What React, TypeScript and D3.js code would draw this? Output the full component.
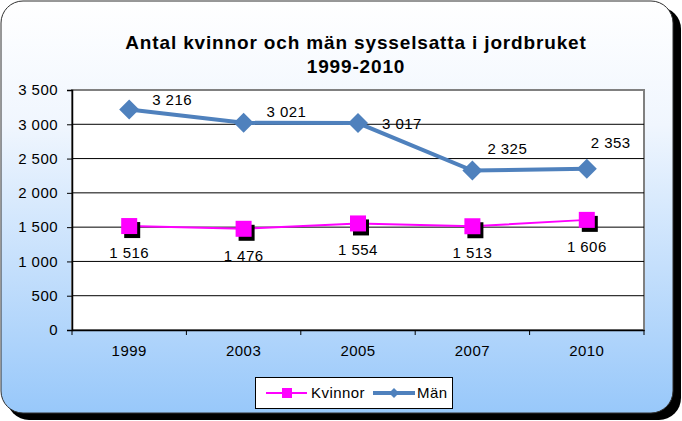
import React, { useEffect, useRef } from "react";
import * as d3 from "d3";

// data
const years = ["1999", "2003", "2005", "2007", "2010"];
const kvinnor = [1516, 1476, 1554, 1513, 1606];
const man = [3216, 3021, 3017, 2325, 2353];
const yTicks = [0, 500, 1000, 1500, 2000, 2500, 3000, 3500];
// label nudges for the Män series (hand placed in the original)
const manLabelDx = [23, 23, 24, 15, 4];
const manLabelDy = [-4, -6, 6, -17, -21];

const W = 682;
const H = 421;
const margin = { left: 72, right: 38, top: 90, bottom: 91 };
const FONT = "Liberation Sans, Arial, sans-serif";
const FS = 15;
const LS = 0.45;

const sv = d3.formatLocale({
  decimal: ",",
  thousands: "\u00a0",
  grouping: [3],
  currency: ["", " kr"],
});
const fmt = sv.format(",d");

const txt = (sel) =>
  sel
    .attr("font-family", FONT)
    .attr("font-size", FS)
    .attr("letter-spacing", LS)
    .attr("fill", "#000");

const App = () => {
  const ref = useRef(null);

  useEffect(() => {
    const svg = d3.select(ref.current);
    svg.selectAll("*").remove();

    const defs = svg.append("defs");
    const grad = defs
      .append("linearGradient")
      .attr("id", "bg")
      .attr("x1", 0)
      .attr("y1", 0)
      .attr("x2", 0)
      .attr("y2", 1);
    grad.append("stop").attr("offset", "0%").attr("stop-color", "#ffffff");
    grad.append("stop").attr("offset", "30%").attr("stop-color", "#f0f6fe");
    grad.append("stop").attr("offset", "100%").attr("stop-color", "#98c8fa");

    // frame with shadow
    svg
      .append("rect")
      .attr("x", 7)
      .attr("y", 7)
      .attr("width", 674)
      .attr("height", 413)
      .attr("rx", 22)
      .attr("fill", "#000");
    svg
      .append("rect")
      .attr("x", 1)
      .attr("y", 1)
      .attr("width", 672)
      .attr("height", 412)
      .attr("rx", 22)
      .attr("fill", "url(#bg)")
      .attr("stroke", "#303030")
      .attr("stroke-width", 1);

    const x = d3
      .scaleBand()
      .domain(years)
      .range([margin.left, W - margin.right]);
    const y = d3
      .scaleLinear()
      .domain([0, 3500])
      .range([H - margin.bottom, margin.top]);
    const cx = (d) => x(d) + x.bandwidth() / 2;

    // plot area
    svg
      .append("rect")
      .attr("x", margin.left)
      .attr("y", margin.top)
      .attr("width", W - margin.left - margin.right)
      .attr("height", H - margin.top - margin.bottom)
      .attr("fill", "#fff")
      .attr("stroke", "#808080")
      .attr("stroke-width", 2);

    // gridlines
    svg
      .append("g")
      .selectAll("line")
      .data(yTicks.filter((t) => t > 0 && t < 3500))
      .join("line")
      .attr("x1", margin.left)
      .attr("x2", W - margin.right)
      .attr("y1", (d) => y(d))
      .attr("y2", (d) => y(d))
      .attr("stroke", "#000")
      .attr("stroke-width", 1);

    // y axis
    const yAxis = svg
      .append("g")
      .attr("transform", `translate(${margin.left},0)`)
      .call(
        d3
          .axisLeft(y)
          .tickValues(yTicks)
          .tickFormat(fmt)
          .tickSize(5)
          .tickPadding(9)
      );
    yAxis.select(".domain").attr("stroke", "#000").attr("stroke-width", 1.5);
    yAxis.selectAll("text").call(txt);

    // x axis
    const xAxis = svg
      .append("g")
      .attr("transform", `translate(0,${H - margin.bottom})`)
      .call(d3.axisBottom(x).tickSize(0).tickPadding(15));
    xAxis.select(".domain").attr("stroke", "#000").attr("stroke-width", 1.5);
    xAxis.selectAll("text").call(txt);
    svg
      .append("g")
      .selectAll("line")
      .data(d3.range(years.length + 1))
      .join("line")
      .attr("x1", (i) => margin.left + i * x.step())
      .attr("x2", (i) => margin.left + i * x.step())
      .attr("y1", H - margin.bottom)
      .attr("y2", H - margin.bottom + 5)
      .attr("stroke", "#000");

    const line = d3
      .line()
      .x((d) => d[0])
      .y((d) => d[1]);
    const manPts = years.map((yr, i) => [cx(yr), y(man[i])]);
    const kvPts = years.map((yr, i) => [cx(yr), y(kvinnor[i])]);

    // Män line
    svg
      .append("path")
      .attr("d", line(manPts))
      .attr("fill", "none")
      .attr("stroke", "#4f81bd")
      .attr("stroke-width", 4);
    svg
      .append("g")
      .selectAll("path")
      .data(manPts)
      .join("path")
      .attr("d", (d) => `M${d[0]},${d[1] - 10}L${d[0] + 10},${d[1]}L${d[0]},${d[1] + 10}L${d[0] - 10},${d[1]}Z`)
      .attr("fill", "#4f81bd");
    svg
      .append("g")
      .selectAll("text")
      .data(manPts)
      .join("text")
      .attr("x", (d, i) => d[0] + manLabelDx[i])
      .attr("y", (d, i) => d[1] + manLabelDy[i])
      .call(txt)
      .text((d, i) => fmt(man[i]));

    // Kvinnor line
    svg
      .append("path")
      .attr("d", line(kvPts))
      .attr("fill", "none")
      .attr("stroke", "#ff00ff")
      .attr("stroke-width", 2);
    svg
      .append("g")
      .selectAll("rect")
      .data(kvPts)
      .join("rect")
      .attr("x", (d) => d[0] - 5)
      .attr("y", (d) => d[1] - 4)
      .attr("width", 16)
      .attr("height", 16)
      .attr("fill", "#000");
    svg
      .append("g")
      .selectAll("rect")
      .data(kvPts)
      .join("rect")
      .attr("x", (d) => d[0] - 8)
      .attr("y", (d) => d[1] - 8)
      .attr("width", 16)
      .attr("height", 16)
      .attr("fill", "#ff00ff");
    svg
      .append("g")
      .selectAll("text")
      .data(kvPts)
      .join("text")
      .attr("x", (d) => d[0])
      .attr("y", (d) => d[1] + 32)
      .attr("text-anchor", "middle")
      .call(txt)
      .text((d, i) => fmt(kvinnor[i]));

    // title
    const title = svg
      .append("text")
      .attr("x", 356)
      .attr("y", 49)
      .attr("text-anchor", "middle")
      .attr("font-family", FONT)
      .attr("font-size", 19)
      .attr("letter-spacing", 0.85)
      .attr("font-weight", "bold");
    title.append("tspan").attr("x", 356).text("Antal kvinnor och män sysselsatta i jordbruket");
    title.append("tspan").attr("x", 356).attr("dy", 24).text("1999-2010");

    // legend
    const lg = svg.append("g");
    lg.append("rect")
      .attr("x", 255.5)
      .attr("y", 377.5)
      .attr("width", 197)
      .attr("height", 31)
      .attr("fill", "#fff")
      .attr("stroke", "#000");
    lg.append("line")
      .attr("x1", 266)
      .attr("x2", 307)
      .attr("y1", 393)
      .attr("y2", 393)
      .attr("stroke", "#ff00ff")
      .attr("stroke-width", 2);
    lg.append("rect")
      .attr("x", 282)
      .attr("y", 388)
      .attr("width", 10)
      .attr("height", 10)
      .attr("fill", "#ff00ff");
    lg.append("text").attr("x", 311).attr("y", 398).call(txt).text("Kvinnor");
    lg.append("line")
      .attr("x1", 373)
      .attr("x2", 415)
      .attr("y1", 393)
      .attr("y2", 393)
      .attr("stroke", "#4f81bd")
      .attr("stroke-width", 4);
    lg.append("path")
      .attr("d", "M394,388L399,393L394,398L389,393Z")
      .attr("fill", "#4f81bd");
    lg.append("text").attr("x", 417).attr("y", 398).call(txt).text("Män");
  }, []);

  return (
    <svg
      ref={ref}
      width={W}
      height={H}
      style={{ position: "absolute", left: 0, top: 0 }}
    />
  );
};

export default App;
